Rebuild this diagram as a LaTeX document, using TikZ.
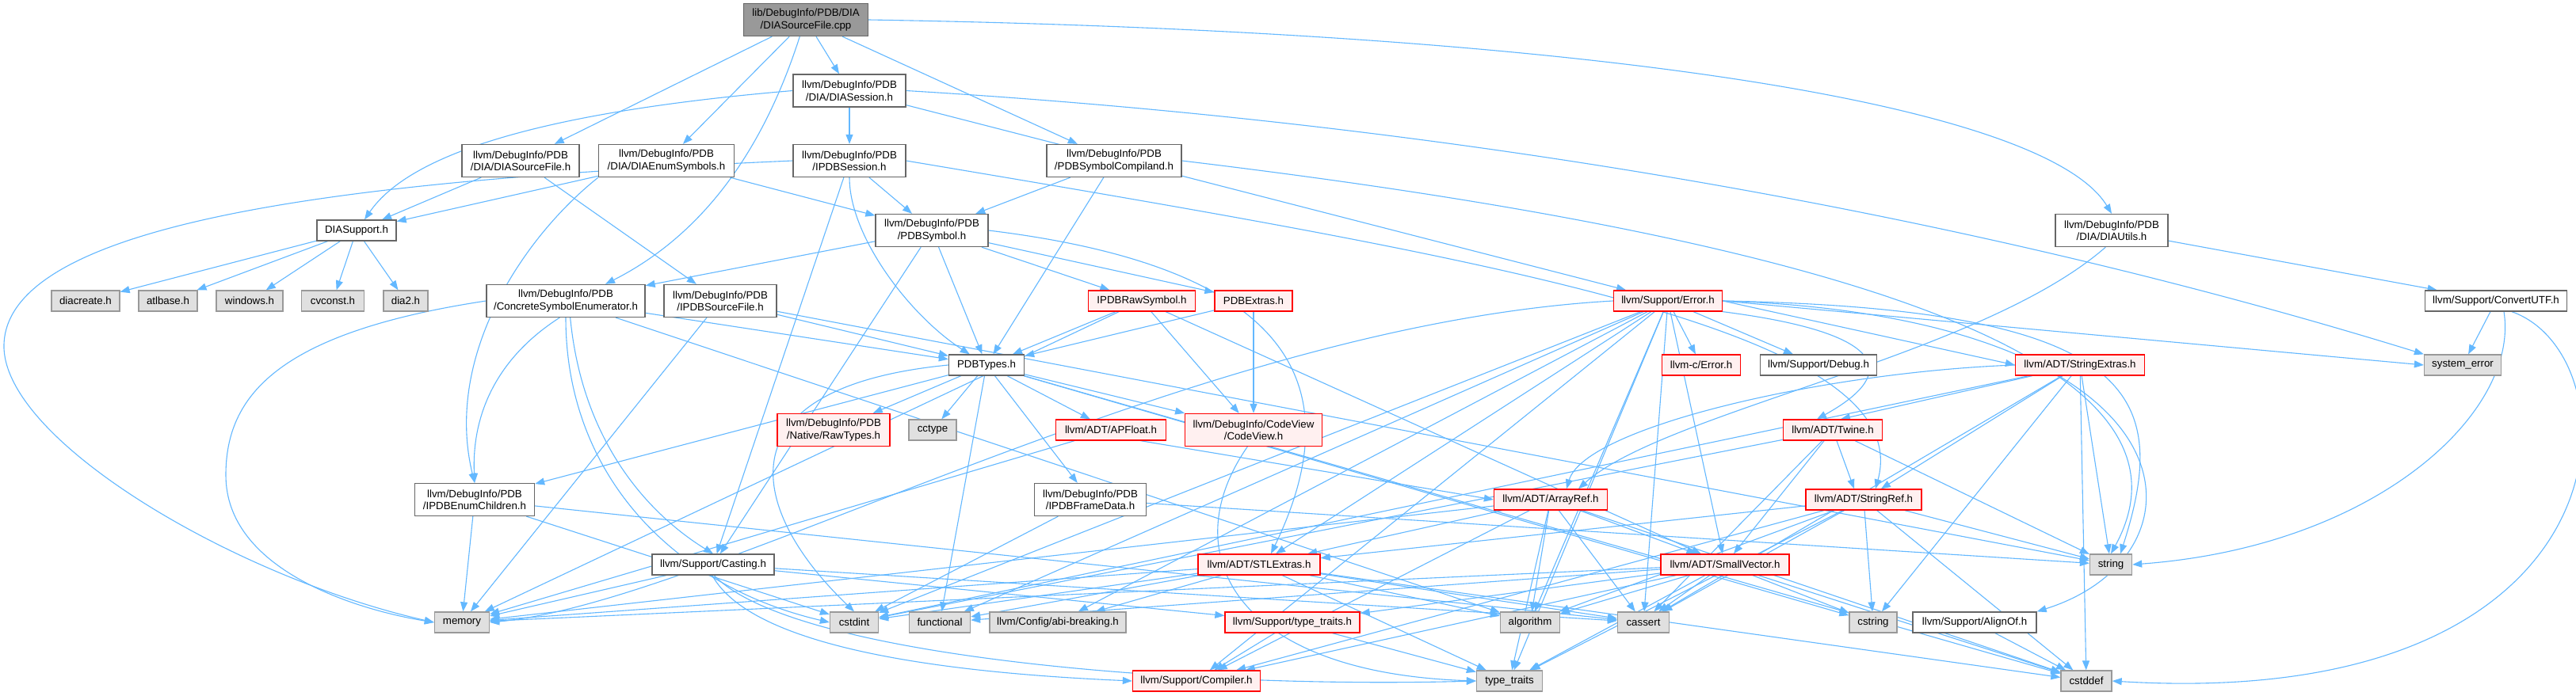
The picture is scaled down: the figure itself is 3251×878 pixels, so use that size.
\documentclass[tikz,border=0pt]{standalone}
\usepackage{fontspec}
\setmainfont{Liberation Sans}
\usetikzlibrary{arrows.meta}
\definecolor{edgec}{HTML}{63B8FF}
\definecolor{nbord}{HTML}{666666}
\definecolor{gbord}{HTML}{999999}
\definecolor{gfill}{HTML}{E0E0E0}
\definecolor{rfill}{HTML}{FFF0F0}
\definecolor{rootfill}{HTML}{999999}
\pgfdeclarelayer{bg}
\pgfsetlayers{bg,main}
\newcommand{\dfont}{\fontsize{13.3}{15.5}\selectfont}
\tikzset{
  base/.style={draw, line width=1.3pt, font=\dfont, align=center, inner sep=0pt},
  wn/.style={base, draw=nbord, fill=white},
  rn/.style={base, draw=red, fill=rfill},
  gn/.style={base, draw=gbord, fill=gfill},
  rootn/.style={base, draw=nbord, fill=rootfill},
  s1/.style={minimum height=26pt},
  s2/.style={minimum height=41pt},
  e/.style={draw=edgec, line width=1.1pt, -{Triangle[length=12pt,width=9pt]}},
}
\begin{document}
\begin{tikzpicture}[x=1pt,y=-1pt]
\useasboundingbox (0,0) rectangle (3251,878);
% row 1-2
\node[rootn,s2,minimum width=157pt] (root) at (1017,25) {lib/DebugInfo/PDB/DIA\\/DIASourceFile.cpp};
\node[wn,s2,minimum width=142pt] (dsess) at (1072,114.5) {llvm/DebugInfo/PDB\\/DIA/DIASession.h};
% row 3
\node[wn,s2,minimum width=148pt] (dsrc) at (657,203) {llvm/DebugInfo/PDB\\/DIA/DIASourceFile.h};
\node[wn,s2,minimum width=171pt] (denum) at (841,203) {llvm/DebugInfo/PDB\\/DIA/DIAEnumSymbols.h};
\node[wn,s2,minimum width=142pt] (ises) at (1072,203) {llvm/DebugInfo/PDB\\/IPDBSession.h};
\node[wn,s2,minimum width=170pt] (comp) at (1406,203) {llvm/DebugInfo/PDB\\/PDBSymbolCompiland.h};
% row 4
\node[wn,s1,minimum width=100pt] (dsup) at (450,291) {DIASupport.h};
\node[wn,s2,minimum width=142pt] (psym) at (1176,291) {llvm/DebugInfo/PDB\\/PDBSymbol.h};
\node[wn,s2,minimum width=142pt] (dutil) at (2665,291) {llvm/DebugInfo/PDB\\/DIA/DIAUtils.h};
% row 5
\node[gn,s1,minimum width=86pt] (diacreate) at (108,380) {diacreate.h};
\node[gn,s1,minimum width=74pt] (atlbase) at (212,380) {atlbase.h};
\node[gn,s1,minimum width=84pt] (windowsh) at (315,380) {windows.h};
\node[gn,s1,minimum width=79pt] (cvconst) at (420,380) {cvconst.h};
\node[gn,s1,minimum width=56pt] (diatwo) at (512,380) {dia2.h};
\node[wn,s2,minimum width=200pt] (cse) at (714,380) {llvm/DebugInfo/PDB\\/ConcreteSymbolEnumerator.h};
\node[wn,s2,minimum width=142pt] (isrc) at (909,380) {llvm/DebugInfo/PDB\\/IPDBSourceFile.h};
\node[rn,s1,minimum width=135pt] (iraw) at (1441,380) {IPDBRawSymbol.h};
\node[rn,s1,minimum width=98pt] (pext) at (1582,380) {PDBExtras.h};
\node[rn,s1,minimum width=137pt] (err) at (2105,380) {llvm/Support/Error.h};
\node[wn,s1,minimum width=179pt] (cutf) at (3150,380) {llvm/Support/ConvertUTF.h};
% row 6
\node[wn,s1,minimum width=95pt] (ptypes) at (1245,461) {PDBTypes.h};
\node[rn,s1,minimum width=99pt] (cerr) at (2147,461) {llvm-c/Error.h};
\node[wn,s1,minimum width=147pt] (debug) at (2295,461) {llvm/Support/Debug.h};
\node[rn,s1,minimum width=163pt] (strext) at (2625,461) {llvm/ADT/StringExtras.h};
\node[gn,s1,minimum width=97pt] (syserr) at (3108,461) {system\_error};
% row 7
\node[rn,s2,minimum width=142pt] (raw) at (1052,543) {llvm/DebugInfo/PDB\\/Native/RawTypes.h};
\node[gn,s1,minimum width=60pt] (cctype) at (1177,543) {cctype};
\node[rn,s1,minimum width=139pt] (apf) at (1402,543) {llvm/ADT/APFloat.h};
\node[rn,s2,minimum width=173pt] (cv) at (1582,543) {llvm/DebugInfo/CodeView\\/CodeView.h};
\node[rn,s1,minimum width=125pt] (twine) at (2313,543) {llvm/ADT/Twine.h};
% row 8
\node[wn,s2,minimum width=151pt] (ienum) at (599,631) {llvm/DebugInfo/PDB\\/IPDBEnumChildren.h};
\node[wn,s2,minimum width=141pt] (iframe) at (1376,631) {llvm/DebugInfo/PDB\\/IPDBFrameData.h};
\node[rn,s1,minimum width=143pt] (aref) at (1957,631) {llvm/ADT/ArrayRef.h};
\node[rn,s1,minimum width=146pt] (sref) at (2352,631) {llvm/ADT/StringRef.h};
% row 9
\node[wn,s1,minimum width=154pt] (cast) at (900,713) {llvm/Support/Casting.h};
\node[rn,s1,minimum width=154pt] (stlx) at (1589,713) {llvm/ADT/STLExtras.h};
\node[rn,s1,minimum width=162pt] (svec) at (2177,713) {llvm/ADT/SmallVector.h};
\node[gn,s1,minimum width=53pt] (str) at (2664,713) {string};
% row 10
\node[gn,s1,minimum width=69pt] (mem) at (583,786) {memory};
\node[gn,s1,minimum width=61pt] (cstdint) at (1078,786) {cstdint};
\node[gn,s1,minimum width=77pt] (func) at (1186,786) {functional};
\node[gn,s1,minimum width=172pt] (abi) at (1335,786) {llvm/Config/abi-breaking.h};
\node[rn,s1,minimum width=170pt] (tth) at (1631,786) {llvm/Support/type\_traits.h};
\node[gn,s1,minimum width=75pt] (algo) at (1931,786) {algorithm};
\node[gn,s1,minimum width=65pt] (cassert) at (2074,786) {cassert};
\node[gn,s1,minimum width=60pt] (cstring) at (2364,786) {cstring};
\node[wn,s1,minimum width=156pt] (align) at (2492,786) {llvm/Support/AlignOf.h};
% row 11
\node[rn,s1,minimum width=161pt] (compiler) at (1510,860) {llvm/Support/Compiler.h};
\node[gn,s1,minimum width=83pt] (tt) at (1905,860) {type\_traits};
\node[gn,s1,minimum width=64pt] (cstddef) at (2633,860) {cstddef};

\begin{pgfonlayer}{bg}
\fill[white] (0,0) rectangle (3251,878);
% root
\draw[e] (root) -- (dsrc);
\draw[e] (root) -- (denum);
\draw[e] (root.250) .. controls (960,200) and (880,300) .. ([xshift=50pt]cse.north);
\draw[e] (root) -- (dsess);
\draw[e] (root) -- (comp);
\draw[e] (root.east) .. controls (2000,40) and (2580,130) .. (dutil.north);
% DIASession
\draw[e] (dsess.west) .. controls (700,140) and (520,190) .. ([xshift=10pt]dsup.north);
\draw[e] (dsess) -- (ises);
\draw[e] (dsess) -- (err);
\draw[e] (dsess.east) .. controls (1900,160) and (2550,290) .. (syserr.north west);
% DIASourceFile.h
\draw[e] (dsrc) -- (dsup);
\draw[e] (dsrc) -- (isrc);
% DIAEnumSymbols
\draw[e] (denum) -- (dsup);
\draw[e] (denum.south west) .. controls (660,300) and (560,450) .. (ienum.north);
\draw[e] (denum) -- (psym);
% IPDBSession
\draw[e] (ises) -- (psym);
\draw[e] (ises.south) .. controls (1072,300) and (1150,400) .. (ptypes);
\draw[e] (ises) -- (cast);
\draw[e] (ises.west) .. controls (500,225) and (0,270) .. (5,440) .. controls (10,560) and (300,730) .. (mem.west);
\draw[e] (ises.east) .. controls (1900,330) and (2420,420) .. ([xshift=15pt]sref.north);
% PDBSymbolCompiland
\draw[e] (comp) -- (psym);
\draw[e] (comp) -- (ptypes);
\draw[e] (comp.east) .. controls (2300,300) and (2800,450) .. (str.north);
% DIASupport
\draw[e] (dsup) -- (diacreate);
\draw[e] (dsup) -- (atlbase);
\draw[e] (dsup) -- (windowsh);
\draw[e] (dsup) -- (cvconst);
\draw[e] (dsup) -- (diatwo);
% PDBSymbol
\draw[e] (psym) -- (cse);
\draw[e] (psym) -- (iraw);
\draw[e] (psym) -- (pext);
\draw[e] (psym) -- (ptypes);
\draw[e] (psym) -- (cast);
\draw[e] (psym.east) .. controls (1650,340) and (1700,500) .. ([xshift=15pt]stlx.north);
% ConcreteSymbolEnumerator
\draw[e] (cse.west) .. controls (350,420) and (285,500) .. (285,600) .. controls (285,720) and (450,770) .. (mem.west);
\draw[e] (cse.250) .. controls (630,450) and (595,520) .. (ienum.north);
\draw[e] (cse.south) .. controls (714,600) and (850,740) .. (cstdint.west);
\draw[e] (cse.285) .. controls (735,560) and (820,650) .. (cast.north);
\draw[e] (cse) -- (algo);
\draw[e] (cse) -- (ptypes);
% IPDBSourceFile
\draw[e] (isrc) -- (ptypes);
\draw[e] (isrc) -- (mem);
\draw[e] (isrc) -- (str);
% IPDBRawSymbol
\draw[e] (iraw) -- (mem);
\draw[e] (iraw) -- (ptypes);
\draw[e] (iraw) -- (cv);
\draw[e] (iraw) -- (svec);
% PDBExtras
\draw[e] (pext) -- (ptypes);
\draw[e] (pext) -- (cv);
% Error.h
\draw[e] (err) -- (cerr);
\draw[e] (err) -- (debug);
\draw[e] (err.east) -- (strext.west);
\draw[e] (err.south east) .. controls (2380,420) and (2400,470) .. ([xshift=-20pt]twine.north);
\draw[e] (err.east) -- (syserr.west);
\draw[e] (err.east) .. controls (2700,390) and (2740,500) .. ([xshift=12pt]str.north);
\draw[e] (err) -- (stlx);
\draw[e] (err) -- (svec);
\draw[e] (err) -- (abi);
\draw[e] (err.east) .. controls (2780,400) and (2800,700) .. (align.north east);
\draw[e] (err) -- (compiler);
\draw[e] (err) -- (algo);
\draw[e] (err) -- (cassert);
\draw[e] (err) -- (cstdint);
\draw[e] (err) -- (func);
\draw[e] (err.west) .. controls (1500,410) and (900,760) .. (mem.east);
\draw[e] (err) -- (tt);
% ConvertUTF
\draw[e] (cutf) -- (syserr);
\draw[e] ([xshift=10pt]cutf.south) .. controls (3180,520) and (3000,690) .. (str.east);
\draw[e] ([xshift=20pt]cutf.south) .. controls (3330,450) and (3330,900) .. (cstddef.east);
% PDBTypes
\draw[e] (ptypes) -- (ienum);
\draw[e] (ptypes) -- (raw);
\draw[e] (ptypes) -- (cctype);
\draw[e] (ptypes) -- (func);
\draw[e] (ptypes) -- (iframe);
\draw[e] (ptypes) -- (apf);
\draw[e] (ptypes) -- (cv);
\draw[e] (ptypes.west) .. controls (900,490) and (950,650) .. (cstdint.north);
\draw[e] (ptypes) -- (cstring);
\draw[e] (ptypes) -- (cstddef);
% IPDBEnumChildren
\draw[e] (ienum) -- (mem);
\draw[e] (ienum) -- (cstdint);
\draw[e] (ienum) -- (cassert);
% IPDBFrameData
\draw[e] (iframe) -- (cstdint);
\draw[e] (iframe) -- (str);
% APFloat
\draw[e] (apf) -- (mem);
\draw[e] (apf.340) -- (aref.west);
% CodeView
\draw[e] (cv.250) .. controls (1480,700) and (1560,850) .. (tt.west);
% Twine
\draw[e] (twine) -- (cstdint);
\draw[e] (twine) -- (svec);
\draw[e] (twine) -- (cassert);
\draw[e] (twine) -- ([xshift=-12pt]sref.north);
\draw[e] (twine) -- (str);
% StringExtras
\draw[e] (strext.west) .. controls (2300,470) and (2000,540) .. ([xshift=20pt]aref.north);
\draw[e] (strext) -- (sref);
\draw[e] (strext) -- ([xshift=10pt]twine.north);
\draw[e] (strext) -- (cassert);
\draw[e] (strext) -- (cstddef);
\draw[e] (strext) -- (cstdint);
\draw[e] (strext) -- (cstring);
\draw[e] (strext) -- (str);
% ArrayRef
\draw[e] (aref) -- (mem);
\draw[e] (aref) -- (stlx);
\draw[e] (aref) -- (compiler);
\draw[e] (aref) -- (algo);
\draw[e] (aref) -- (tt);
\draw[e] (aref) -- (cassert);
\draw[e] (aref) -- (svec);
\draw[e] (aref) -- (cstddef);
% StringRef
\draw[e] (sref) -- (stlx);
\draw[e] (sref) -- (cassert);
\draw[e] (sref) -- (algo);
\draw[e] (sref) -- (cstring);
\draw[e] (sref) -- (cstddef);
\draw[e] (sref) -- (str);
\draw[e] (sref) -- (tt);
\draw[e] (sref) -- (compiler);
% SmallVector
\draw[e] (svec) -- (mem);
\draw[e] (svec) -- (tth);
\draw[e] (svec) -- (algo);
\draw[e] (svec) -- (cassert);
\draw[e] (svec) -- (tt);
\draw[e] (svec) -- (cstddef);
\draw[e] (svec) -- (cstring);
\draw[e] (svec) -- (func);
\draw[e] (svec) -- (compiler);
% STLExtras
\draw[e] (stlx) -- (cstdint);
\draw[e] (stlx) -- (abi);
\draw[e] (stlx) -- (algo);
\draw[e] (stlx) -- (cassert);
\draw[e] (stlx) -- (tt);
\draw[e] (stlx) -- (cstddef);
\draw[e] (stlx) -- (func);
\draw[e] (stlx) -- (mem);
% Casting
\draw[e] (cast) -- (mem);
\draw[e] (cast.265) .. controls (950,820) and (1200,850) .. (compiler.west);
\draw[e] (cast.275) .. controls (1000,830) and (1500,870) .. (tt.west);
\draw[e] (cast) -- (cassert);
\draw[e] (cast) -- (tth);
% type_traits.h, AlignOf
\draw[e] (tth) -- (compiler);
\draw[e] (tth) -- (tt);
\draw[e] (align) -- (cstddef);
% DIAUtils
\draw[e] (dutil.250) .. controls (2500,450) and (2100,520) .. ([xshift=35pt]aref.north);
\draw[e] (dutil) -- (cutf);
\end{pgfonlayer}
\end{tikzpicture}
\end{document}
